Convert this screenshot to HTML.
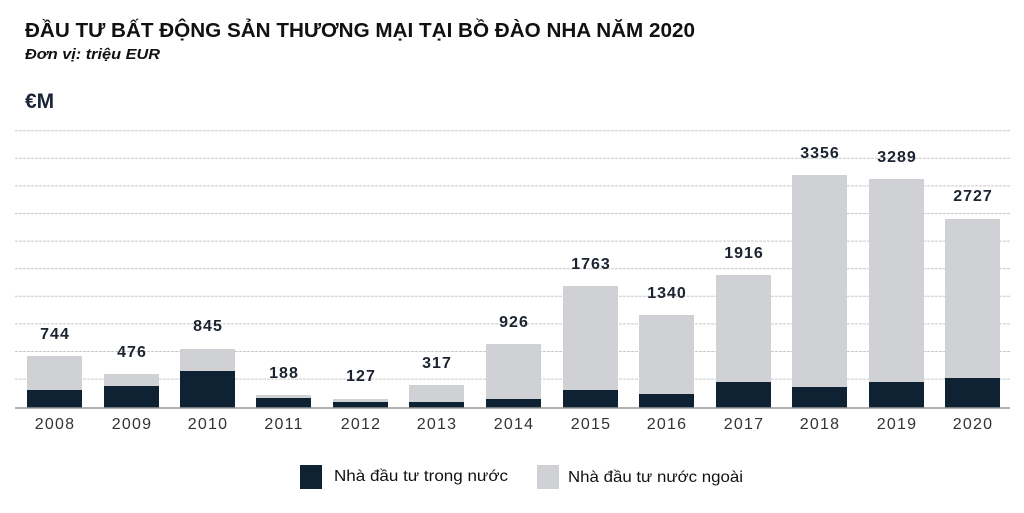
<!DOCTYPE html>
<html><head><meta charset="utf-8"><style>
html,body{margin:0;padding:0;background:#fff;}
svg{display:block;}
</style></head><body>
<svg width="1024" height="513" viewBox="0 0 1024 513" xmlns="http://www.w3.org/2000/svg" font-family="Liberation Sans, DejaVu Sans, sans-serif">
<text x="25" y="37" font-size="20" font-weight="bold" fill="#111" textLength="670" lengthAdjust="spacingAndGlyphs">ĐẦU TƯ BẤT ĐỘNG SẢN THƯƠNG MẠI TẠI BỒ ĐÀO NHA NĂM 2020</text>
<text x="25" y="59" font-size="14.5" font-weight="bold" font-style="italic" fill="#111" textLength="135" lengthAdjust="spacingAndGlyphs">Đơn vị: triệu EUR</text>
<text x="25" y="108" font-size="21" font-weight="bold" fill="#1a2535">€M</text>
<g stroke="#c9c9c9" stroke-width="1" stroke-dasharray="3,1">
<line x1="15" x2="1010" y1="130.7" y2="130.7"/>
<line x1="15" x2="1010" y1="158.3" y2="158.3"/>
<line x1="15" x2="1010" y1="185.9" y2="185.9"/>
<line x1="15" x2="1010" y1="213.5" y2="213.5"/>
<line x1="15" x2="1010" y1="241.1" y2="241.1"/>
<line x1="15" x2="1010" y1="268.7" y2="268.7"/>
<line x1="15" x2="1010" y1="296.3" y2="296.3"/>
<line x1="15" x2="1010" y1="323.9" y2="323.9"/>
<line x1="15" x2="1010" y1="351.5" y2="351.5"/>
<line x1="15" x2="1010" y1="379.1" y2="379.1"/>
</g>
<g fill="#d0d1d5">
<rect x="27" y="356" width="55" height="52"/>
<rect x="104" y="374" width="55" height="34"/>
<rect x="180" y="349" width="55" height="59"/>
<rect x="256" y="395" width="55" height="13"/>
<rect x="333" y="399" width="55" height="9"/>
<rect x="409" y="385" width="55" height="23"/>
<rect x="486" y="344" width="55" height="64"/>
<rect x="563" y="286" width="55" height="122"/>
<rect x="639" y="315" width="55" height="93"/>
<rect x="716" y="275" width="55" height="133"/>
<rect x="792" y="175" width="55" height="233"/>
<rect x="869" y="179" width="55" height="229"/>
<rect x="945" y="219" width="55" height="189"/>
</g>
<g fill="#0f2233">
<rect x="27" y="390" width="55" height="18"/>
<rect x="104" y="386" width="55" height="22"/>
<rect x="180" y="371" width="55" height="37"/>
<rect x="256" y="398" width="55" height="10"/>
<rect x="333" y="402" width="55" height="6"/>
<rect x="409" y="402" width="55" height="6"/>
<rect x="486" y="399" width="55" height="9"/>
<rect x="563" y="390" width="55" height="18"/>
<rect x="639" y="394" width="55" height="14"/>
<rect x="716" y="382" width="55" height="26"/>
<rect x="792" y="387" width="55" height="21"/>
<rect x="869" y="382" width="55" height="26"/>
<rect x="945" y="378" width="55" height="30"/>
</g>
<line x1="15" x2="1010" y1="408" y2="408" stroke="#999" stroke-width="1.5"/>
<g font-size="16" font-weight="bold" fill="#1c2330" text-anchor="middle" letter-spacing="1">
<text x="55" y="339">744</text>
<text x="132" y="357">476</text>
<text x="208" y="331">845</text>
<text x="284" y="378">188</text>
<text x="361" y="381">127</text>
<text x="437" y="368">317</text>
<text x="514" y="327">926</text>
<text x="591" y="269">1763</text>
<text x="667" y="298">1340</text>
<text x="744" y="258">1916</text>
<text x="820" y="158">3356</text>
<text x="897" y="162">3289</text>
<text x="973" y="201">2727</text>
</g>
<g font-size="16" fill="#333" text-anchor="middle" letter-spacing="1.2">
<text x="55" y="429">2008</text>
<text x="132" y="429">2009</text>
<text x="208" y="429">2010</text>
<text x="284" y="429">2011</text>
<text x="361" y="429">2012</text>
<text x="437" y="429">2013</text>
<text x="514" y="429">2014</text>
<text x="591" y="429">2015</text>
<text x="667" y="429">2016</text>
<text x="744" y="429">2017</text>
<text x="820" y="429">2018</text>
<text x="897" y="429">2019</text>
<text x="973" y="429">2020</text>
</g>
<rect x="300" y="465" width="22" height="24" fill="#0f2233"/>
<text x="334" y="481" font-size="16" fill="#111" textLength="174" lengthAdjust="spacingAndGlyphs">Nhà đầu tư trong nước</text>
<rect x="537" y="465" width="22" height="24" fill="#d0d1d5"/>
<text x="568" y="482" font-size="16" fill="#111" textLength="175" lengthAdjust="spacingAndGlyphs">Nhà đầu tư nước ngoài</text>
</svg>
</body></html>
